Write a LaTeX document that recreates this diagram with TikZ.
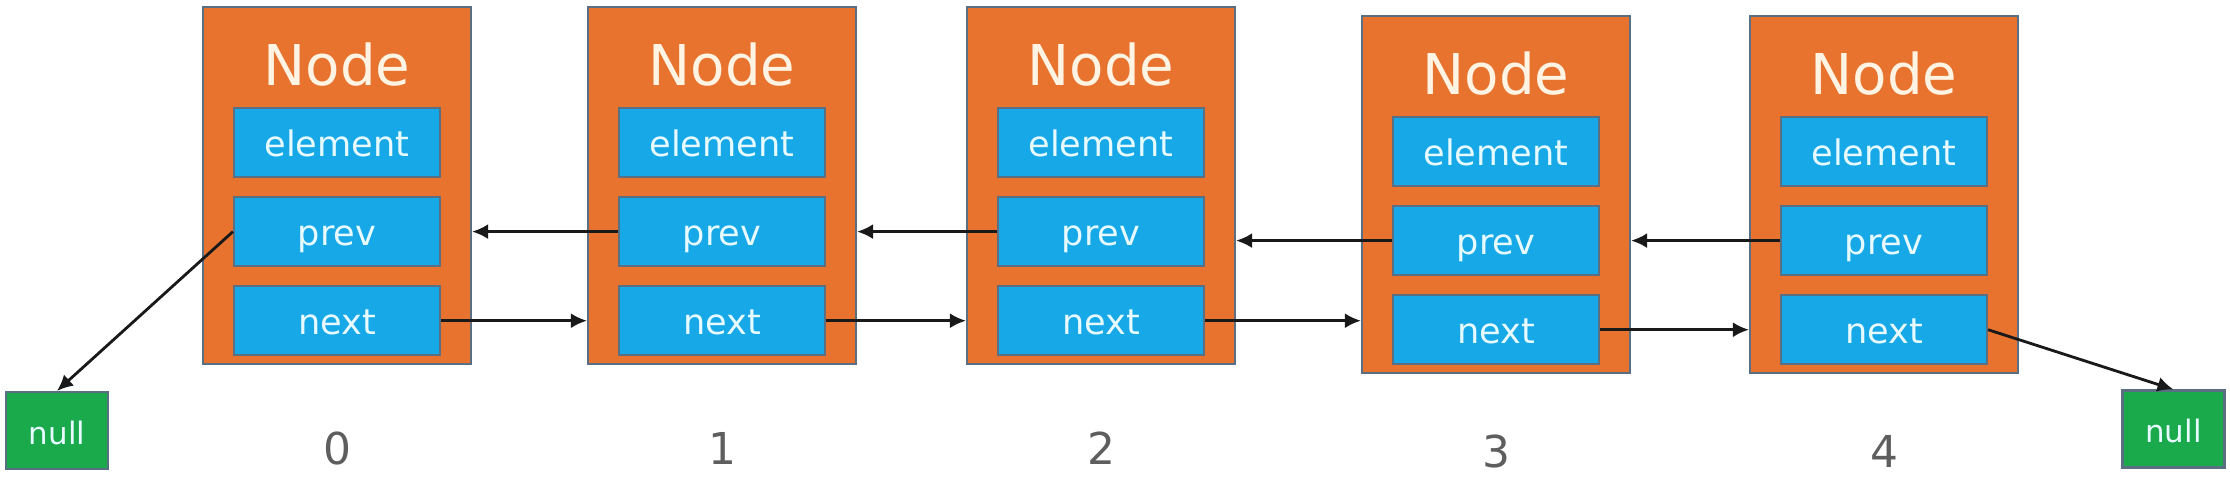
\documentclass[tikz,border=0pt]{standalone}
\usepackage{fontspec}
\setmainfont{DejaVu Sans}
\usetikzlibrary{arrows.meta,positioning,calc}
\definecolor{norange}{HTML}{E8732E}
\definecolor{fblue}{HTML}{17A8E8}
\definecolor{ngreen}{HTML}{1AAA4B}
\definecolor{edge}{HTML}{5A6F82}
\definecolor{cream}{HTML}{FFF4E3}
\definecolor{ftext}{HTML}{E6FAFF}
\definecolor{igray}{HTML}{5E5E5E}
\tikzset{
  nodebox/.style={draw=edge, line width=0.6pt, fill=norange, minimum width=2.68cm, minimum height=3.57cm, inner sep=0pt},
  nodetitle/.style={text=cream, font=\fontsize{16}{19}\selectfont, inner sep=0pt, anchor=base},
  field/.style={draw=edge, line width=0.6pt, fill=fblue, text=ftext, minimum width=2.06cm, minimum height=0.69cm, inner sep=0pt, text height=0.35cm, text depth=0.08cm, font=\fontsize{10}{12}\selectfont},
  nullbox/.style={draw=edge, line width=0.6pt, fill=ngreen, text=ftext, minimum width=1.02cm, minimum height=0.77cm, inner sep=0pt, text height=0.30cm, text depth=0.03cm, font=\fontsize{8.8}{10}\selectfont},
  idx/.style={text=igray, font=\fontsize{12.5}{15}\selectfont, inner sep=0pt, anchor=base},
  ptr/.style={-{Latex[length=1.6mm,width=1.5mm]}, line width=0.8pt, draw=black!90},
}
\begin{document}
\begin{tikzpicture}[node distance=0.18cm]
  \useasboundingbox (0,0) rectangle (22.30,-4.76);
  \node[nodebox](n0) at (3.37,-1.855){};
  \node[nodetitle] at ($(n0.north)+(0,-0.80)$){Node};
  \node[field,below=1.01cm of n0.north](e0){element};
  \node[field,below=of e0](p0){prev};
  \node[field,below=of p0](x0){next};
  \node[idx] at ($(n0.south)+(0,-0.99)$){0};

  \node[nodebox](n1) at (7.22,-1.855){};
  \node[nodetitle] at ($(n1.north)+(0,-0.80)$){Node};
  \node[field,below=1.01cm of n1.north](e1){element};
  \node[field,below=of e1](p1){prev};
  \node[field,below=of p1](x1){next};
  \node[idx] at ($(n1.south)+(0,-0.99)$){1};

  \node[nodebox](n2) at (11.01,-1.855){};
  \node[nodetitle] at ($(n2.north)+(0,-0.80)$){Node};
  \node[field,below=1.01cm of n2.north](e2){element};
  \node[field,below=of e2](p2){prev};
  \node[field,below=of p2](x2){next};
  \node[idx] at ($(n2.south)+(0,-0.99)$){2};

  \node[nodebox](n3) at (14.96,-1.945){};
  \node[nodetitle] at ($(n3.north)+(0,-0.80)$){Node};
  \node[field,below=1.01cm of n3.north](e3){element};
  \node[field,below=of e3](p3){prev};
  \node[field,below=of p3](x3){next};
  \node[idx] at ($(n3.south)+(0,-0.93)$){3};

  \node[nodebox](n4) at (18.84,-1.945){};
  \node[nodetitle] at ($(n4.north)+(0,-0.80)$){Node};
  \node[field,below=1.01cm of n4.north](e4){element};
  \node[field,below=of e4](p4){prev};
  \node[field,below=of p4](x4){next};
  \node[idx] at ($(n4.south)+(0,-0.93)$){4};

  \node[nullbox](nl) at (0.57,-4.305){null};
  \node[nullbox](nr) at (21.735,-4.29){null};

  \draw[ptr](p0.west)--(nl.north);
  \draw[ptr](p1.west)--(p1.west -| n0.east);
  \draw[ptr](p2.west)--(p2.west -| n1.east);
  \draw[ptr](p3.west)--(p3.west -| n2.east);
  \draw[ptr](p4.west)--(p4.west -| n3.east);
  \draw[ptr](x0.east)--(x0.east -| n1.west);
  \draw[ptr](x1.east)--(x1.east -| n2.west);
  \draw[ptr](x2.east)--(x2.east -| n3.west);
  \draw[ptr](x3.east)--(x3.east -| n4.west);
  \draw[ptr](x4.east)--(nr.north);
\end{tikzpicture}
\end{document}
